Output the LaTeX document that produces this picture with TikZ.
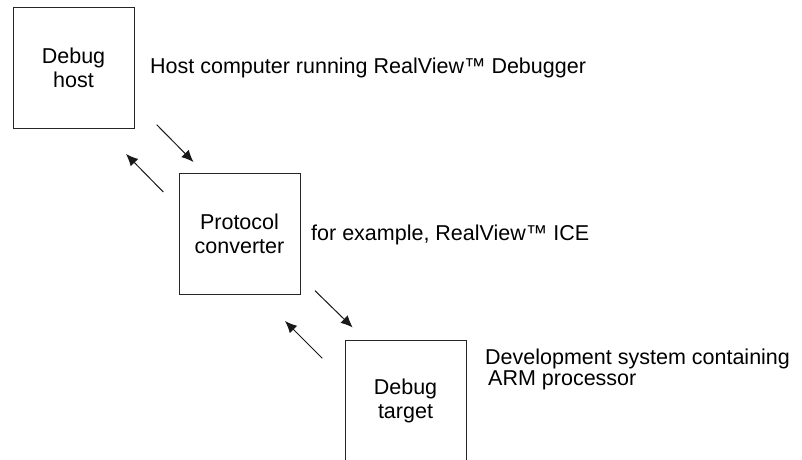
\documentclass[tikz,border=0pt]{standalone}
\usepackage{fontspec}
\setmainfont{Liberation Sans}
\usetikzlibrary{arrows.meta}
\begin{document}
\begin{tikzpicture}[x=1pt,y=-1pt,
  box/.style={draw=black!85, line width=1pt, minimum width=121pt, minimum height=121pt, inner sep=0pt, align=center, font=\fontsize{21.5}{24}\selectfont},
  lbl/.style={anchor=base west, inner sep=0pt, font=\fontsize{21.5}{24}\selectfont},
  arr/.style={draw=black!90, line width=1pt, -{Latex[length=12pt,width=10.5pt]}}]
\useasboundingbox (0,0) rectangle (802,459);
\begin{scope}
\clip (0,0) rectangle (802,459);
\node[box] (host) at (73.5,67.5) {Debug\\host};
\node[box] (conv) at (239.5,233.5) {Protocol\\converter};
\node[box] (targ) at (405.5,400.5) {Debug\\target};
\end{scope}
\node[lbl] (l1) at (150,73.3) {Host computer running RealView™ Debugger};
\node[lbl] (l2) at (311,240) {for example, RealView™ ICE};
\node[lbl] (l3a) at (485,364) {Development system containing};
\node[lbl] (l3b) at (488,385.5) {ARM processor};
\coordinate (a1s) at (156.7,124.7);
\coordinate (a1e) at (193.5,162);
\coordinate (a2s) at (163.3,192);
\coordinate (a2e) at (126,154);
\coordinate (a3s) at (315,290.7);
\coordinate (a3e) at (352.7,327.5);
\coordinate (a4s) at (322.3,358.3);
\coordinate (a4e) at (285,321);
\draw[arr] (a1s) -- (a1e);
\draw[arr] (a2s) -- (a2e);
\draw[arr] (a3s) -- (a3e);
\draw[arr] (a4s) -- (a4e);
\end{tikzpicture}
\end{document}
